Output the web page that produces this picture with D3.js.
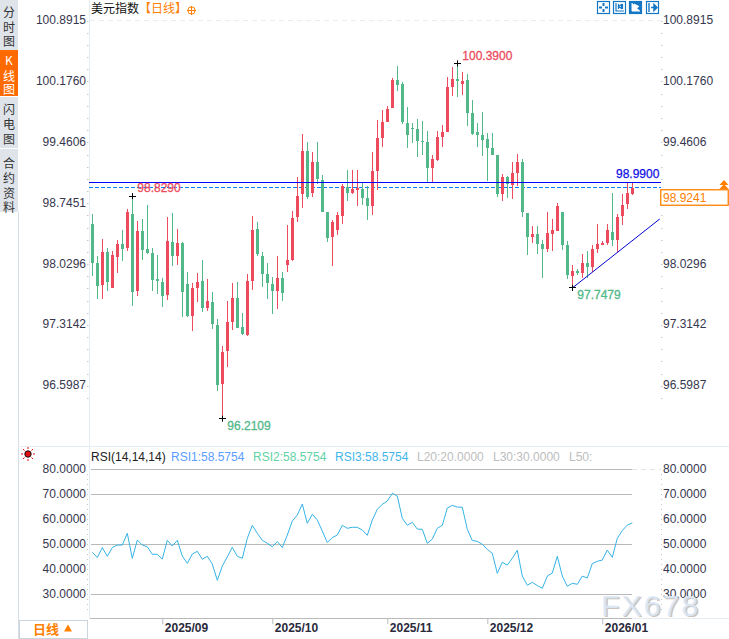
<!DOCTYPE html>
<html><head><meta charset="utf-8">
<script src="https://cdn.jsdelivr.net/npm/d3@7/dist/d3.min.js"></script>
<style>html,body{margin:0;padding:0;background:#fff;overflow:hidden}svg{display:block}</style>
</head><body><svg id="c" width="729" height="639"></svg>
<script>
const opens=[98.501,98.042,97.783,98.171,97.748,98.113,98.266,98.219,98.618,97.713,98.418,98.207,98.160,97.854,97.819,97.666,98.289,98.124,98.277,97.795,97.419,97.748,97.830,97.513,97.583,97.313,96.619,97.007,97.348,97.631,97.289,97.195,97.830,98.442,98.124,97.913,97.795,97.713,97.866,98.019,98.077,98.583,98.854,99.359,98.865,99.230,99.018,98.642,98.348,98.430,98.595,98.936,98.865,98.901,98.912,98.807,98.712,99.124,99.512,99.700,99.865,100.194,100.147,99.689,99.630,99.618,99.477,99.465,99.159,99.253,99.524,99.583,100.112,100.206,100.147,100.194,99.806,99.583,99.547,99.500,99.395,99.312,98.854,99.053,98.959,99.101,99.230,98.630,98.348,98.383,98.266,98.207,98.383,98.418,98.642,98.254,97.889,97.948,97.925,98.042,97.995,98.207,98.254,98.277,98.407,98.313,98.595,98.736,98.854];
const closes=[98.042,97.772,98.171,97.819,98.136,98.266,98.207,98.642,97.701,98.418,98.195,98.160,97.842,97.830,97.654,98.301,98.124,98.277,97.701,97.419,97.748,97.819,97.513,97.595,97.325,96.607,96.995,97.348,97.631,97.278,97.207,97.830,98.430,98.148,97.913,97.807,97.713,97.866,97.689,98.077,98.571,98.830,99.359,98.818,99.230,99.030,98.642,98.336,98.524,98.607,98.948,98.865,98.912,98.924,98.807,98.712,99.124,99.512,99.700,99.853,100.194,100.135,99.700,99.547,99.618,99.477,99.465,99.159,99.265,99.524,99.583,100.112,100.206,100.182,100.182,99.806,99.559,99.547,99.489,99.395,99.312,98.854,99.053,98.971,99.101,99.230,98.642,98.348,98.383,98.266,98.207,98.395,98.430,98.712,98.254,97.901,97.948,97.925,98.042,97.995,98.207,98.266,98.277,98.430,98.313,98.583,98.724,98.865,98.9241];
const highs=[98.618,98.124,98.324,98.219,98.183,98.313,98.430,98.677,98.829,98.536,98.560,98.724,98.219,98.136,97.866,98.583,98.630,98.442,98.289,97.936,97.807,97.925,98.077,97.854,97.701,97.384,97.066,97.595,97.807,97.819,97.454,97.913,98.595,98.524,98.171,98.042,97.877,98.124,97.936,98.489,98.654,99.053,99.559,99.465,99.348,99.465,99.077,98.642,98.548,98.642,98.971,99.136,99.136,99.136,98.995,98.948,99.348,99.724,99.841,99.888,100.218,100.359,100.171,99.877,99.689,99.736,99.712,99.594,99.312,99.594,99.665,100.229,100.347,100.390,100.288,100.265,99.959,99.689,99.818,99.571,99.571,99.312,99.089,99.065,99.230,99.324,99.265,98.630,98.477,98.477,98.313,98.642,98.560,98.748,98.642,98.301,98.019,97.972,98.148,98.183,98.254,98.501,98.301,98.501,98.865,98.618,98.854,98.990,98.990];
const lows=[97.889,97.619,97.619,97.713,97.748,97.925,98.066,98.183,97.536,97.654,98.077,98.148,97.713,97.678,97.525,97.607,98.007,98.019,97.407,97.407,97.242,97.583,97.466,97.478,97.266,96.537,96.2109,96.819,97.254,97.278,97.195,97.184,97.725,98.124,97.760,97.619,97.442,97.501,97.595,97.936,98.066,98.524,98.689,98.795,98.818,98.971,98.642,98.289,98.007,98.371,98.501,98.771,98.854,98.712,98.724,98.548,98.607,98.901,99.406,99.700,99.865,100.065,99.677,99.395,99.453,99.289,99.312,98.995,98.995,99.242,99.406,99.583,100.006,99.994,100.018,99.653,99.547,99.406,99.300,99.006,99.312,98.818,98.771,98.807,98.795,98.948,98.583,98.136,98.277,98.148,97.866,98.171,98.183,98.418,98.195,97.854,97.7479,97.901,97.866,97.866,97.936,98.160,98.254,98.254,98.242,98.171,98.489,98.677,98.842];
const rsiValues=[46.8,44.7,48.7,45.2,48.7,49.7,49.7,54.4,44.4,51.7,49.7,49,46,46,44.1,51.6,49.3,51.6,45.3,42.4,46.1,47.2,44,45.2,42.1,35.6,41.3,45,48.8,45.2,44.4,52.4,57.6,54.4,51.6,50.4,49,51.1,48.7,53.7,59.3,61.7,66.1,58.4,62,59.7,55.3,50.7,52.7,53.7,57.6,56.4,56.8,56.8,55.7,53.6,59.7,64,66,67.3,70.4,69.3,60.4,57.6,58.8,56.1,56,50.4,52.1,56.4,57.6,64.5,65.6,64.9,64.8,56,51.5,51.2,50,48,46.4,38.4,42.8,41.7,44.4,47.6,37.3,33.6,34.8,33.5,32.4,37.3,38.5,45.2,37.3,33.2,34.4,34,37.3,36.5,42.3,43.2,43.7,47.7,44.8,52.4,55.5,57.7,58.5754];
const priceTicks=[100.8915,100.1760,99.4606,98.7451,98.0296,97.3142,96.5987];
const priceTicksRight=[100.8915,100.1760,99.4606,98.0296,97.3142,96.5987];
const rsiTicks=[80,70,60,50,40,30];
const rsiGrid=[80,70,50,30];
const monthIdx=[14,36,59,79,102];
const monthLabels=["2025/09","2025/10","2025/11","2025/12","2026/01"];
const hiLoIdx=[8,73,26,96];
const hiLoPrice=[98.829,100.39,96.2109,97.7479];
const hiLoText=["98.8290","100.3900","96.2109","97.7479"];
const resistance=98.99, lastPrice=98.9241;
const trendIdx=[96,113.5], trendPrice=[97.7479,98.56];
const rsiHeader=["RSI(14,14,14)","RSI1:58.5754","RSI2:58.5754","RSI3:58.5754","L20:20.0000","L30:30.0000","L50:"];

const RED="#ec4b5d",GREEN="#52b889",NUM="#36364e",FF="'Liberation Sans',Arial,sans-serif",CJK="'Noto Sans CJK SC',sans-serif";
const svg=d3.select("#c");
const x=d3.scaleLinear().domain([0,108]).range([92.3,632.3]);
const y=d3.scaleLinear().domain([96.5987,100.8915]).range([385.7,20.7]);
const r=d3.scaleLinear().domain([30,80]).range([594.3,469.3]);
const px=v=>Math.floor(x(v));

// sidebar
const tabs=[[0,50,"#dfe3ea"],[50,46,"#ff6a00"],[97,51,"#dfe3ea"],[149,63,"#dfe3ea"]];
svg.selectAll(".tab").data(tabs).join("rect").attr("x",0).attr("y",d=>d[0]).attr("width",18).attr("height",d=>d[1]).attr("fill",d=>d[2]);
const sideText=[["分",12,"#333"],["时",27,"#333"],["图",41,"#333"],["K",60,"#fff"],["线",76,"#fff"],["图",89,"#fff"],["闪",109,"#333"],["电",124,"#333"],["图",139,"#333"],["合",163,"#333"],["约",178,"#333"],["资",193,"#333"],["料",207,"#333"]];
svg.selectAll(".st").data(sideText).join("text").attr("x",9).attr("y",d=>d[1]+4.5).attr("text-anchor","middle")
 .attr("font-family",CJK).attr("font-size",12).attr("fill",d=>d[2]).text(d=>d[0]);
// frame lines
const lines=[[18.5,212,18.5,639,"#d5dde6"],[89.5,0,89.5,619,"#e6edf2"],[18,446.5,729,446.5,"#e6edf2"],[632,618.5,729,618.5,"#e6edf2"]];
svg.selectAll(".fl").data(lines).join("line").attr("x1",d=>d[0]).attr("y1",d=>d[1]).attr("x2",d=>d[2]).attr("y2",d=>d[3]).attr("stroke",d=>d[4]);
svg.append("line").attr("x1",90).attr("x2",632).attr("y1",618.5).attr("y2",618.5).attr("stroke","#b9b9b9");
svg.append("line").attr("x1",90).attr("x2",661).attr("y1",20.5).attr("y2",20.5).attr("stroke","#ececec").attr("stroke-dasharray","5 4");
svg.append("line").attr("x1",632).attr("x2",661).attr("y1",469.5).attr("y2",469.5).attr("stroke","#e4e4e4").attr("stroke-dasharray","5 4");

// axes
function styleAxis(g,anchor,xpos,dy){
 g.select(".domain").remove();
 g.selectAll("line").remove();
 g.selectAll("text").attr("x",xpos).attr("dy",0).attr("y",dy).attr("text-anchor",anchor).attr("fill",NUM).attr("font-family",FF).attr("font-size",12);
}
const fmtP=d3.format(".4f");
svg.append("g").call(d3.axisLeft(y).tickValues(priceTicks).tickFormat(fmtP)).call(g=>styleAxis(g,"end",86,3.0));
svg.append("g").call(d3.axisRight(y).tickValues(priceTicksRight).tickFormat(fmtP)).call(g=>styleAxis(g,"start",663,3.0));
svg.append("g").call(d3.axisLeft(r).tickValues(rsiTicks).tickFormat(fmtP)).call(g=>styleAxis(g,"end",86,3.5));
svg.append("g").call(d3.axisRight(r).tickValues(rsiTicks).tickFormat(fmtP)).call(g=>styleAxis(g,"start",663,3.5));
// minor tick dots
const minorP=d3.range(-1,37).map(k=>96.5987+k*0.14311);
[87.5,661.5].forEach(px0=>{
 svg.append("g").selectAll("rect").data(minorP.filter(v=>y(v)>20&&y(v)<440)).join("rect").attr("x",Math.floor(px0)).attr("y",d=>Math.round(y(d))).attr("width",1.5).attr("height",1).attr("fill","#c4c8cc");
 svg.append("g").selectAll("rect").data(d3.range(0,30).map(k=>r(22+k*2)).filter(v=>v>470&&v<612)).join("rect").attr("x",Math.floor(px0)).attr("y",d=>Math.round(d)).attr("width",1).attr("height",1).attr("fill","#c4c8cc");
});

// dashed last-price line
svg.append("line").attr("x1",89).attr("x2",661).attr("y1",Math.floor(y(lastPrice))+.5).attr("y2",Math.floor(y(lastPrice))+.5).attr("stroke","#0080ff").attr("stroke-dasharray","4 2");

// candles
const idx=d3.range(opens.length);
const col=i=>closes[i]>=opens[i]?RED:GREEN;
const cg=svg.append("g");
cg.selectAll(".w").data(idx).join("rect").attr("x",i=>px(i)).attr("width",1)
 .attr("y",i=>y(highs[i])).attr("height",i=>Math.max(1,y(lows[i])-y(highs[i]))).attr("fill",col);
cg.selectAll(".b").data(idx).join("rect").attr("x",i=>px(i)-1).attr("width",3)
 .attr("y",i=>Math.round(y(Math.max(opens[i],closes[i])))).attr("height",i=>Math.max(1,Math.round(Math.abs(y(opens[i])-y(closes[i]))))).attr("fill",col);

// resistance line sits over the candles
svg.append("line").attr("x1",89).attr("x2",661).attr("y1",Math.floor(y(resistance))+.5).attr("y2",Math.floor(y(resistance))+.5).attr("stroke","#0000ff").attr("stroke-width",1.2);

// trend line
svg.append("line").attr("x1",x(trendIdx[0])).attr("y1",y(trendPrice[0])).attr("x2",x(trendIdx[1])).attr("y2",y(trendPrice[1])).attr("stroke","#0000d0").attr("stroke-width",1);

// high/low marks
const mk=svg.append("g");
mk.selectAll(".h").data(hiLoIdx).join("line").attr("x1",i=>px(i)-3).attr("x2",i=>px(i)+4).attr("y1",(d,i)=>Math.floor(y(hiLoPrice[i]))+.5).attr("y2",(d,i)=>Math.floor(y(hiLoPrice[i]))+.5).attr("stroke","#000");
mk.selectAll(".v").data(hiLoIdx).join("line").attr("x1",i=>px(i)+.5).attr("x2",i=>px(i)+.5).attr("y1",(d,i)=>y(hiLoPrice[i])-3).attr("y2",(d,i)=>y(hiLoPrice[i])+3).attr("stroke","#000");
const lblCol=[RED,RED,GREEN,GREEN];
mk.selectAll(".t").data(hiLoIdx).join("text").attr("x",d=>x(d)+5).attr("y",(d,i)=>y(hiLoPrice[i])+[-4,-3,11,11][i])
 .attr("font-family",FF).attr("font-size",12).attr("fill",(d,i)=>lblCol[i]).attr("stroke",(d,i)=>lblCol[i]).attr("stroke-width",.3).text((d,i)=>hiLoText[i]);
svg.append("text").attr("x",616).attr("y",y(resistance)-4).attr("font-family",FF).attr("font-size",12).attr("fill","#1010e0").attr("stroke","#1010e0").attr("stroke-width",.25).text(fmtP(resistance));

// last price box
svg.append("rect").attr("x",660.75).attr("y",189.75).attr("width",67.5).attr("height",15.5).attr("fill","#fff").attr("stroke","#ff8000").attr("stroke-width",1.3);
svg.append("text").attr("x",663).attr("y",201.5).attr("font-family",FF).attr("font-size",12).attr("fill","#ff8000").text(fmtP(lastPrice));
[180,184].forEach(t=>svg.append("path").attr("d",`M724 ${t}l4.5 5h-9z`).attr("fill","#ff8000"));

// title
svg.append("text").attr("x",91).attr("y",13).attr("font-family",CJK).attr("font-size",12).attr("fill","#111").text("美元指数");
svg.append("text").attr("x",139).attr("y",13).attr("font-family",CJK).attr("font-size",12).attr("fill","#ff8000").text("【日线】");
svg.append("circle").attr("cx",191.5).attr("cy",10.5).attr("r",3.7).attr("fill","none").attr("stroke","#ff8000");
svg.append("path").attr("d","M187 10.5h9M191.5 6v9").attr("stroke","#ff8000").attr("fill","none");

// tool icons
const icons=[597,613,629,646];
icons.forEach((ix,k)=>{
 const g=svg.append("g").attr("transform",`translate(${ix},1)`);
 g.append("rect").attr("x",.5).attr("y",.5).attr("width",12).attr("height",12).attr("fill",k===2?"#1577c4":"#fff").attr("stroke","#1577c4").attr("stroke-width",1.2);
 const c=k===2?"#fff":"#1577c4";
 if(k===0) g.append("path").attr("d","M6.5 2v3M6.5 8v3M2 6.5h3M8 6.5h3").attr("stroke",c).attr("stroke-width",2);
 if(k===1) g.append("path").attr("d","M3 2v8h8M5.5 3v5M9.5 3v5M5.5 5.5l3-2v4z").attr("stroke",c).attr("fill","none").attr("stroke-width",1.2);
 if(k===2) g.append("path").attr("d","M3 2v8h8M5 3v5l5-2.5z").attr("stroke",c).attr("fill",c);
 if(k===3) g.append("path").attr("d","M3 2v9M5 6.5h3M8 3.5v6l3-3z").attr("stroke",c).attr("fill",c).attr("stroke-width",1.4);
});

// RSI panel
svg.append("g").selectAll("line").data(rsiGrid).join("line").attr("x1",91).attr("x2",632).attr("y1",d=>Math.floor(r(d))+.5).attr("y2",d=>Math.floor(r(d))+.5).attr("stroke","#b9b9b9");
svg.append("path").datum(idx).attr("fill","none").attr("stroke","#35b3e6").attr("stroke-width",1)
 .attr("d",d3.line().x(i=>x(i)).y(i=>r(rsiValues[i])));
const hdrX=[91,171,253,335,417,493,569],hdrC=["#222","#5b9dff","#5fd3a6","#3fb6ea","#bdbdbd","#bdbdbd","#bdbdbd"];
svg.selectAll(".rh").data(rsiHeader).join("text").attr("x",(d,i)=>hdrX[i]).attr("y",460.5).attr("font-family",FF).attr("font-size",12)
 .attr("fill",(d,i)=>hdrC[i]).text(d=>d);
// indicator icon
svg.append("circle").attr("cx",28).attr("cy",454).attr("r",3.2).attr("fill","#e01010").attr("stroke","#111").attr("stroke-width",1);
svg.append("path").attr("d","M28 447v2M28 459v2M21 454h2M33 454h2M23 449l1.5 1.5M33 449l-1.5 1.5M23 459l1.5-1.5M33 459l-1.5-1.5").attr("stroke","#e01010").attr("fill","none");

// month axis
const xa=svg.append("g").attr("transform","translate(0,619)").call(d3.axisBottom(x).tickValues(monthIdx).tickSize(5).tickFormat((d,i)=>monthLabels[i]));
xa.select(".domain").remove();
xa.selectAll("line").attr("stroke","#bbb");
xa.selectAll("text").attr("y",13).attr("dy",0).attr("text-anchor","start").attr("dx",2).attr("fill","#2a2a3c").attr("font-family",FF).attr("font-size",12).attr("font-weight","bold");

// period box
svg.append("rect").attr("x",19.5).attr("y",620.5).attr("width",68).attr("height",18).attr("fill","#fff").attr("stroke","#ccd4dc");
svg.append("text").attr("x",33).attr("y",634).attr("font-family",CJK).attr("font-size",13).attr("font-weight",700).attr("fill","#ff8000").text("日线");
svg.append("path").attr("d","M68 624.5l4 7h-8z").attr("fill","#ff8000");

// watermark
const wm=svg.append("g").attr("font-family",FF).attr("font-size",30).attr("letter-spacing",2.2);
wm.append("text").attr("x",602.5).attr("y",617).attr("fill","#a89c94").attr("opacity",.6).text("FX678");
wm.append("text").attr("x",601).attr("y",616).attr("fill","#dbe7f6").attr("opacity",.95).text("FX678");
</script></body></html>
